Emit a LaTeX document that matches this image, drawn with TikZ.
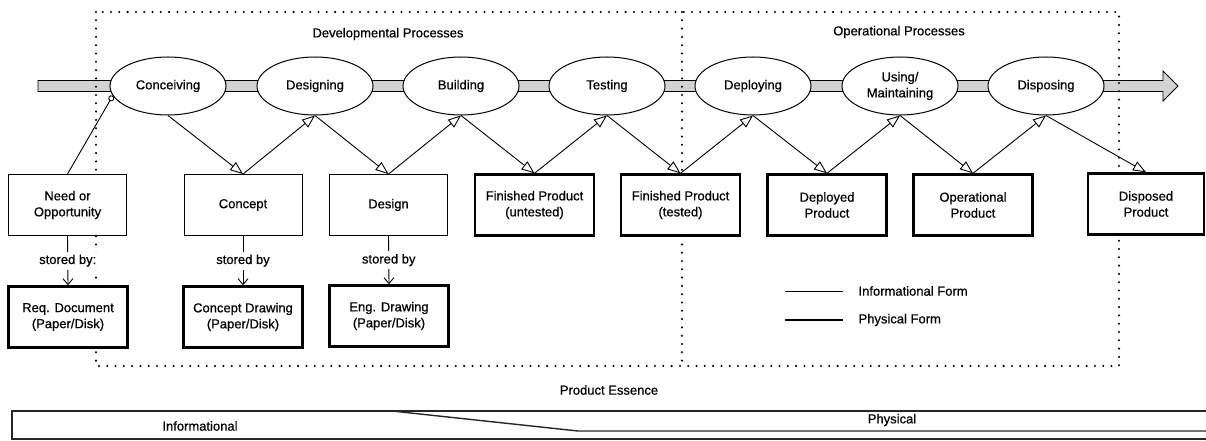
\documentclass[tikz,border=0pt]{standalone}
\usepackage{fontspec}
\setmainfont{Liberation Sans}[FakeBold=0.6]
\usetikzlibrary{arrows.meta,shapes.geometric}
\begin{document}
\begin{tikzpicture}[x=1pt,y=-1pt,
  every node/.style={font=\fontsize{13}{16}\selectfont, align=center},
  proc/.style={ellipse, draw, line width=1pt, fill=white,
    minimum width=116pt, minimum height=58pt, inner sep=0pt},
  infobox/.style={rectangle, draw, line width=0.9pt, fill=white,
    minimum width=118pt, minimum height=61pt, inner sep=0pt},
  physbox/.style={rectangle, draw, line width=2.4pt, fill=white,
    minimum width=119pt, minimum height=61pt, inner sep=0pt},
  flow/.style={line width=0.9pt, -{Triangle[open,length=13pt,width=10pt]}},
  store/.style={line width=0.9pt, -{Straight Barb[length=6pt,width=10pt]}},
  frameline/.style={line width=2.3pt, line cap=round, dash pattern=on 0pt off 8.3pt},
  band/.style={line width=1.4pt, draw=black!85},
]
\useasboundingbox (0,0) rectangle (1206,441);

% life-cycle bar with arrow head
\filldraw[fill=gray!35, draw=black, line width=0.9pt]
  (38,80.5) -- (1163,80.5) -- (1163,71) -- (1178,86) -- (1163,101)
  -- (1163,91.5) -- (38,91.5) -- cycle;

% dotted process regions
\draw[frameline] (96,12) rectangle (1119,366);
\draw[frameline] (682,12) -- (682,366);

\node (devt) at (388,34) {Developmental Processes};
\node (opt) at (899,32) {Operational Processes};

% processes
\node[proc] (conc)  at (168,86)  {Conceiving};
\node[proc] (des)   at (315,86)  {Designing};
\node[proc] (build) at (461,86)  {Building};
\node[proc] (test)  at (607,86)  {Testing};
\node[proc] (depl)  at (753,86)  {Deploying};
\node[proc] (use)   at (900,86)  {Using/\\Maintaining};
\node[proc] (disp)  at (1046,86) {Disposing};

% product states
\node[infobox] (need)     at (67.5,205)  {Need or\\Opportunity};
\node[infobox] (concept)  at (243,205)   {Concept};
\node[infobox] (design)   at (388.5,205) {Design};
\node[physbox] (fpu)      at (534.5,205) {Finished Product\\(untested)};
\node[physbox] (fpt)      at (680.5,205) {Finished Product\\(tested)};
\node[physbox] (deployed) at (827,205)   {Deployed\\Product};
\node[physbox] (oper)     at (973,205)   {Operational\\Product};
\node[physbox, minimum width=116pt] (disposed) at (1146,204) {Disposed\\Product};

% storage media
\node[physbox] (req)   at (68,317)  {Req. Document\\(Paper/Disk)};
\node[physbox] (cdraw) at (243,317) {Concept Drawing\\(Paper/Disk)};
\node[physbox] (edraw) at (389,316) {Eng. Drawing\\(Paper/Disk)};

% flows between processes and products
\draw[line width=0.9pt, -{Circle[open,length=6pt]}] (need.north) -- (conc.190);
\draw[flow] (conc.south) -- (concept.north);
\draw[flow] (concept.north) -- (des.south);
\draw[flow] (des.south) -- (design.north);
\draw[flow] (design.north) -- (build.south);
\draw[flow] (build.south) -- (fpu.north);
\draw[flow] (fpu.north) -- (test.south);
\draw[flow] (test.south) -- (fpt.north);
\draw[flow] (fpt.north) -- (depl.south);
\draw[flow] (depl.south) -- (deployed.north);
\draw[flow] (deployed.north) -- (use.south);
\draw[flow] (use.south) -- (oper.north);
\draw[flow] (oper.north) -- (disp.south);
\draw[flow] (disp.south) -- (disposed.north);

% storage links
\draw[store] (need.south) -- node[fill=white, inner sep=3pt] {stored by:} (req.north);
\draw[store] (concept.south) -- node[fill=white, inner sep=3pt] {stored by} (cdraw.north);
\draw[store] (design.south) -- node[fill=white, inner sep=3pt] {stored by} (edraw.north);

% legend
\coordinate (ia) at (785,291);
\coordinate (ib) at (843,291);
\coordinate (pa) at (785,320);
\coordinate (pb) at (843,320);
\draw[line width=0.9pt] (ia) -- (ib);
\draw[line width=2.6pt] (pa) -- (pb);
\node[anchor=west] (it) at (855,291) {Informational Form};
\node[anchor=west] (pt) at (855,320) {Physical Form};

% product essence band
\node (ess) at (609,390) {Product Essence};
\draw[band] (1206,411) -- (12,411) -- (12,439) -- (1206,439);
\draw[band] (392,411) -- (578,431) -- (1206,431);
\node (inf) at (200,426) {Informational};
\node (phys) at (892,420) {Physical};
\end{tikzpicture}
\end{document}
